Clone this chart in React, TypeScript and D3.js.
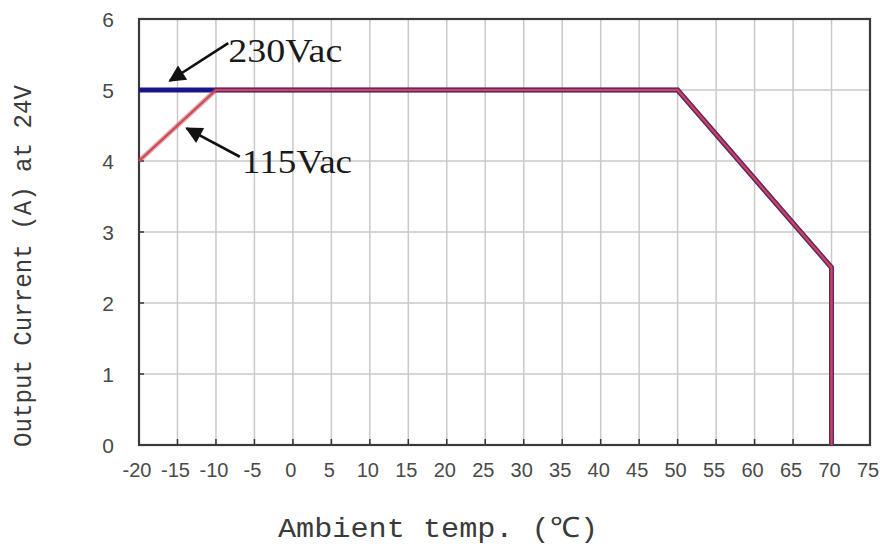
import React from 'react';
import * as d3 from 'd3';

// derating curves, temperature (C) vs output current (A)
const temps230 = [-20, -10, 50, 70, 70];
const amps230 = [5, 5, 5, 2.5, 0];
const temps115 = [-20, -10, 50, 70, 70];
const amps115 = [4, 5, 5, 2.5, 0];

const xTicks = d3.range(-20, 76, 5);
const yTicks = [0, 1, 2, 3, 4, 5, 6];

// annotation anchors in data units: [tailX, tailY, tipX, tipY, textX, textY]
const labels = ['230Vac', '115Vac'];
const arrows = [
  [-8.4, 5.66, -16.0, 5.13, -8.4, 5.39],
  [-6.9, 4.06, -13.8, 4.46, -6.6, 3.83]
];

const W = 884;
const H = 546;
const margin = { top: 19, right: 14, bottom: 101, left: 139 };

export default function App() {
  const x = d3.scaleLinear().domain([-20, 75]).range([margin.left, W - margin.right]);
  const y = d3.scaleLinear().domain([0, 6]).range([H - margin.bottom, margin.top]);

  const line = d3
    .line<number>()
    .x(d => x(d[0]))
    .y(d => y(d[1]));

  const pts230: any = temps230.map((t, i) => [t, amps230[i]]);
  const pts115: any = temps115.map((t, i) => [t, amps115[i]]);

  const x0 = x.range()[0];
  const x1 = x.range()[1];
  const y0 = y.range()[0];
  const y1 = y.range()[1];

  return (
    <svg
      width={W}
      height={H}
      style={{ position: 'absolute', left: 0, top: 0, background: '#fff' }}
    >
      <defs>
        <marker
          id="head"
          viewBox="0 0 10 10"
          refX="9"
          refY="5"
          markerWidth="7"
          markerHeight="6.5"
          orient="auto"
          markerUnits="strokeWidth"
        >
          <path d="M0,0 L10,5 L0,10 Z" fill="#111" />
        </marker>
      </defs>

      {/* grid */}
      <g stroke="#c9c9c9" strokeWidth={1.5}>
        {xTicks.slice(1, -1).map(t => (
          <line key={'gx' + t} x1={x(t)} x2={x(t)} y1={y1} y2={y0} />
        ))}
        {yTicks.slice(1, -1).map(t => (
          <line key={'gy' + t} x1={x0} x2={x1} y1={y(t)} y2={y(t)} />
        ))}
      </g>

      {/* small ticks */}
      <g stroke="#333" strokeWidth={1.5}>
        {xTicks.map(t => (
          <line key={'tx' + t} x1={x(t)} x2={x(t)} y1={y0} y2={y0 - 6} />
        ))}
        {yTicks.map(t => (
          <line key={'ty' + t} x1={x0} x2={x0 + 5} y1={y(t)} y2={y(t)} />
        ))}
      </g>

      <rect
        x={x0}
        y={y1}
        width={x1 - x0}
        height={y0 - y1}
        fill="none"
        stroke="#3a3a3a"
        strokeWidth={2.2}
      />

      {/* curves */}
      <path d={line(pts230) || ''} fill="none" stroke="#16168a" strokeWidth={5} />
      <path
        d={line(pts115) || ''}
        fill="none"
        stroke="#c43c4c"
        strokeOpacity={0.45}
        strokeWidth={5}
      />
      <path d={line(pts115) || ''} fill="none" stroke="#cc4752" strokeWidth={2.2} />

      {/* tick labels */}
      <g fontFamily="'Liberation Sans', Arial, sans-serif" fill="#4a4a4a">
        {yTicks.map(t => (
          <text key={'ly' + t} x={x0 - 31} y={y(t)} dy="0.36em" fontSize={21} textAnchor="middle">
            {t}
          </text>
        ))}
        {xTicks.map(t => (
          <text key={'lx' + t} x={x(t) - 2} y={477} fontSize={20} textAnchor="middle">
            {t}
          </text>
        ))}
      </g>

      {/* axis titles */}
      <text
        x={278}
        y={537}
        fontFamily="'Liberation Mono', 'DejaVu Sans Mono', monospace"
        fontSize={28}
        fill="#3a3a3a"
        textLength={320}
        lengthAdjust="spacingAndGlyphs"
      >
        Ambient temp. (℃)
      </text>
      <text
        transform={`translate(31, ${(85 + 447) / 2}) rotate(-90)`}
        textAnchor="middle"
        fontFamily="'Liberation Mono', 'DejaVu Sans Mono', monospace"
        fontSize={26}
        fill="#3a3a3a"
        textLength={362}
        lengthAdjust="spacingAndGlyphs"
      >
        Output Current (A) at 24V
      </text>

      {/* annotations */}
      {arrows.map((a, i) => (
        <g key={'an' + i}>
          <line
            x1={x(a[0])}
            y1={y(a[1])}
            x2={x(a[2])}
            y2={y(a[3])}
            stroke="#111"
            strokeWidth={2.6}
            markerEnd="url(#head)"
          />
          <text
            x={x(a[4])}
            y={y(a[5])}
            fontFamily="'Liberation Serif', 'Times New Roman', serif"
            fontSize={34}
            fill="#1a1a1a"
            textLength={i === 0 ? 114 : 110}
            lengthAdjust="spacingAndGlyphs"
          >
            {labels[i]}
          </text>
        </g>
      ))}
    </svg>
  );
}
